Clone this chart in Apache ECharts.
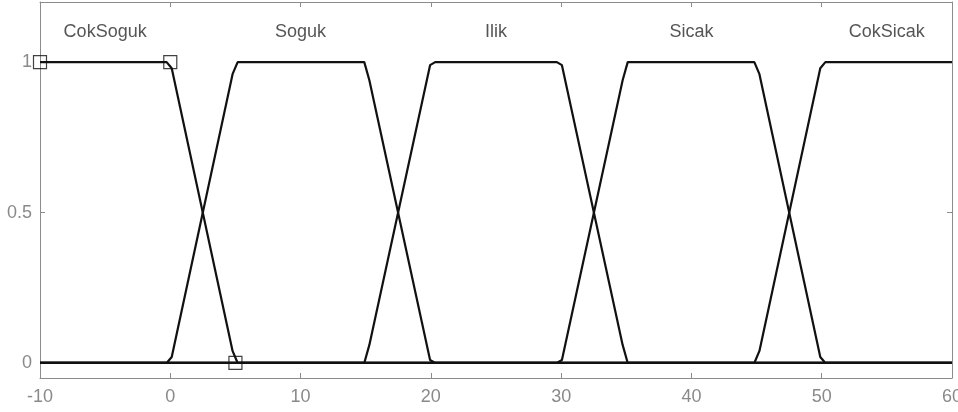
<!DOCTYPE html>
<html><head><meta charset="utf-8">
<script src="https://cdn.jsdelivr.net/npm/echarts@6/dist/echarts.min.js"></script>
<style>html,body{margin:0;padding:0;background:#fff}#c{width:958px;height:412px}</style>
</head><body><div id="c"></div>
<script>
const xTicks = [-10, 0, 10, 20, 30, 40, 50, 60];
const yTicks = [0, 0.5, 1];
const mfNames = ['CokSoguk', 'Soguk', 'Ilik', 'Sicak', 'CokSicak'];
const mfLabelX = [-5, 10, 25, 40, 55];
const mfLabelY = 1.1;
const cokSoguk = [[-10,1],[-0.28,1],[0.11,0.98],[4.78,0.04],[5.17,0],[60,0]];
const soguk = [[-10,0],[-0.28,0],[0.11,0.02],[4.78,0.96],[5.17,1],[14.89,1],[15.28,0.94],[19.94,0.01],[20.33,0],[60,0]];
const ilik = [[-10,0],[14.89,0],[15.28,0.06],[19.94,0.99],[20.33,1],[29.67,1],[30.06,0.99],[34.72,0.06],[35.11,0],[60,0]];
const sicak = [[-10,0],[29.67,0],[30.06,0.01],[34.72,0.94],[35.11,1],[44.83,1],[45.22,0.96],[49.89,0.02],[50.28,0],[60,0]];
const cokSicak = [[-10,0],[44.83,0],[45.22,0.04],[49.89,0.98],[50.28,1],[60,1]];
const selectedParams = [[-10,1],[0,1],[5,0]];

const mfSeries = [cokSoguk, soguk, ilik, sicak, cokSicak];
const chart = echarts.init(document.getElementById('c'));
const axisGrey = '#8c8c8c';
const labelGrey = '#8a8a8a';
const font = 'Liberation Sans, Arial, sans-serif';
const series = mfSeries.map((d, i) => ({
  type: 'line', name: mfNames[i], data: d, symbol: 'none', silent: true,
  lineStyle: {color: '#111', width: 2.2}, animation: false, z: 3
}));
series.push({
  type: 'scatter', data: mfLabelX.map((x, i) => [x, mfLabelY, mfNames[i]]),
  symbolSize: 0, animation: false,
  label: {show: true, position: 'inside', formatter: p => p.data[2], color: '#2a2a2a', fontSize: 18, fontFamily: font}
});
series.push({
  type: 'scatter', data: selectedParams, symbol: 'rect', symbolSize: 13, animation: false, z: 5,
  itemStyle: {color: 'rgba(255,255,255,0)', borderColor: '#111', borderWidth: 1.2}
});
chart.setOption({
  animation: false,
  backgroundColor: '#fff',
  grid: {left: 40, right: 6, top: 2, bottom: 34, outerBoundsMode: 'none', containLabel: false},
  xAxis: [{
    type: 'value', min: -10, max: 60, interval: 10, position: 'bottom',
    axisLine: {show: true, onZero: false, lineStyle: {color: axisGrey}},
    axisTick: {show: true, inside: true, length: 5, lineStyle: {color: axisGrey}},
    axisLabel: {color: labelGrey, fontSize: 18, fontFamily: font, margin: 10, formatter: v => xTicks.includes(v) ? String(v) : ''},
    splitLine: {show: false}
  }, {
    type: 'value', min: -10, max: 60, interval: 10, position: 'top',
    axisLine: {show: true, onZero: false, lineStyle: {color: axisGrey}},
    axisTick: {show: true, inside: true, length: 5, lineStyle: {color: axisGrey}},
    axisLabel: {show: false}, splitLine: {show: false}
  }],
  yAxis: [{
    type: 'value', min: -0.05, max: 1.2, position: 'left',
    axisLine: {show: true, onZero: false, lineStyle: {color: axisGrey}},
    axisTick: {show: true, inside: true, length: 5, customValues: yTicks, lineStyle: {color: axisGrey}},
    axisLabel: {color: labelGrey, fontSize: 18, fontFamily: font, margin: 8, customValues: yTicks, formatter: v => String(v)},
    splitLine: {show: false}
  }, {
    type: 'value', min: -0.05, max: 1.2, position: 'right',
    axisLine: {show: true, onZero: false, lineStyle: {color: axisGrey}},
    axisTick: {show: true, inside: true, length: 5, customValues: yTicks, lineStyle: {color: axisGrey}},
    axisLabel: {show: false}, splitLine: {show: false}
  }],
  series: series
});
</script></body></html>
